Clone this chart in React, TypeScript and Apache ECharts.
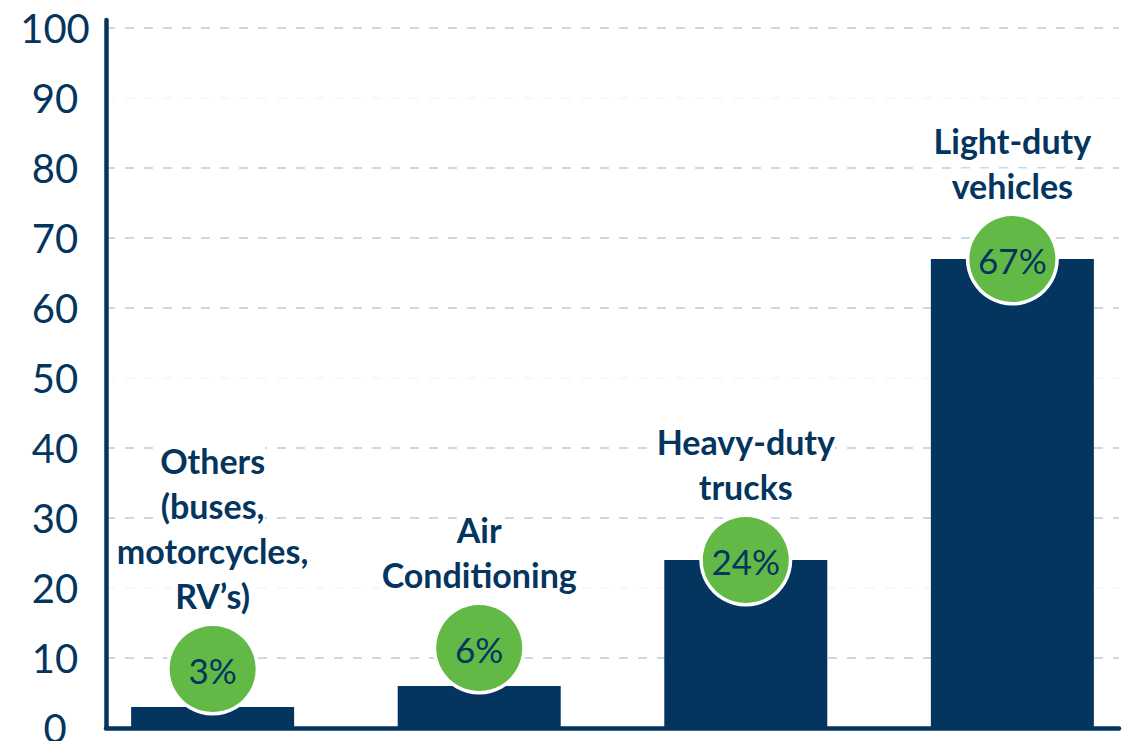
import React, { useEffect, useRef } from "react";
import * as echarts from "echarts";

const categories = [
  "Others\n(buses,\nmotorcycles,\nRV’s)",
  "Air\nConditioning",
  "Heavy-duty\ntrucks",
  "Light-duty\nvehicles",
];
const shares = [3, 6, 24, 67];
const yTicks = [0, 10, 20, 30, 40, 50, 60, 70, 80, 90, 100];

const NAVY = "#04355e";
const GREEN = "#63b946";
const GRID = "#b9ced6";
const GRID_FAINT = "#f3f6f8";

export default function App() {
  const ref = useRef<HTMLDivElement>(null);
  useEffect(() => {
    document.body.style.margin = "0";
    if (!ref.current) return;
    const chart = echarts.init(ref.current, undefined, { renderer: "svg" });
    const faint = [20, 50, 90];
    const lineColors = yTicks.map((t) => (faint.includes(t) ? GRID_FAINT : GRID));
    lineColors.push("rgba(0,0,0,0)");
    const barData = shares.map((v, i) => [i, v]);
    chart.setOption({
      animation: false,
      grid: {
        left: 106,
        right: 5,
        top: 20,
        bottom: 13,
        containLabel: false,
        outerBoundsMode: "none",
      },
      xAxis: {
        type: "value",
        min: -0.4,
        max: 3.4,
        axisLine: { show: true, onZero: false, lineStyle: { color: NAVY, width: 4.5 } },
        axisTick: { show: false },
        axisLabel: { show: false },
        splitLine: { show: false },
      },
      yAxis: {
        type: "value",
        min: 0,
        max: 101.15,
        interval: 10,
        axisLine: { show: true, onZero: false, lineStyle: { color: NAVY, width: 4.5 } },
        axisTick: { show: false },
        axisLabel: {
          showMaxLabel: false,
          align: "center",
          margin: 51,
          color: NAVY,
          fontFamily: "Lato",
          fontSize: 40,
          formatter: (v: number) => (yTicks.includes(v) ? String(v) : ""),
        },
        splitLine: {
          show: true,
          showMaxLine: false,
          lineStyle: { color: lineColors, width: 1.5, type: [9, 10] },
        },
      },
      series: [
        {
          type: "bar",
          data: barData,
          barWidth: 163,
          itemStyle: { color: NAVY },
          z: 2,
        },
        {
          type: "custom",
          z: 5,
          data: barData,
          renderItem: (params: any, api: any) => {
            const i = api.value(0);
            const v = api.value(1);
            const top = api.coord([i, v]);
            const base = api.coord([i, 0]);
            const r = 43;
            const cx = top[0];
            const cy = base[1] - top[1] > 2 * r ? top[1] : top[1] - r + 5;
            const lines = categories[params.dataIndex].split("\n");
            const richText = lines.map((l) => `{a|${l}}`).join("\n");
            return {
              type: "group",
              children: [
                { type: "circle", shape: { cx, cy, r: r + 3.5 }, style: { fill: "#ffffff" } },
                { type: "circle", shape: { cx, cy, r }, style: { fill: GREEN } },
                {
                  type: "text",
                  x: cx,
                  y: cy + 1,
                  style: {
                    text: `${v}%`,
                    fill: NAVY,
                    fontFamily: "Lato",
                    fontSize: 35,
                    align: "center",
                    verticalAlign: "middle",
                  },
                },
                {
                  type: "text",
                  x: cx,
                  y: cy - r - 8,
                  style: {
                    text: richText,
                    align: "center",
                    verticalAlign: "bottom",
                    fontFamily: "Lato",
                    fontSize: 34,
                    fontWeight: "bold",
                    fill: NAVY,
                    lineHeight: 45,
                    rich: {
                      a: {
                        fontFamily: "Lato",
                        fontSize: 34,
                        fontWeight: "bold",
                        fill: NAVY,
                        lineHeight: 45,
                        backgroundColor: "#ffffff",
                      },
                    },
                  },
                },
              ],
            };
          },
        },
      ],
    });
    return () => chart.dispose();
  }, []);
  return <div ref={ref} style={{ width: 1124, height: 741 }} />;
}
